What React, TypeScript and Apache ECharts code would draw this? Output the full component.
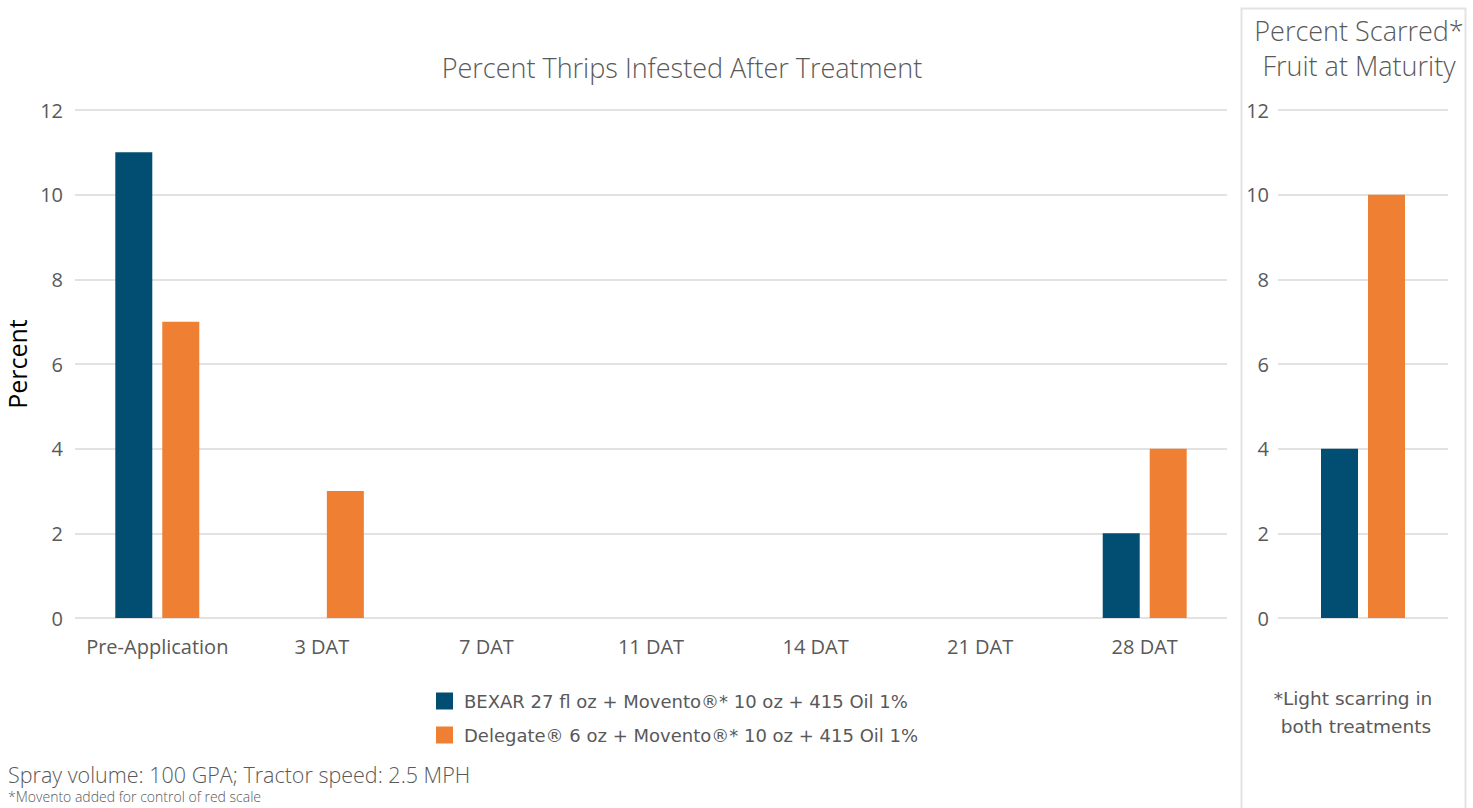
import React, { useEffect, useRef } from "react";
import * as echarts from "echarts";

const categories = ["Pre-Application", "3 DAT", "7 DAT", "11 DAT", "14 DAT", "21 DAT", "28 DAT"];
const bexarValues = [11, 0, 0, 0, 0, 0, 2];
const delegateValues = [7, 3, 0, 0, 0, 0, 4];
const scarredCategories = ["Scarred"];
const bexarScarred = [4];
const delegateScarred = [10];
const seriesNames = [
  "BEXAR 27 fl oz + Movento®* 10 oz + 415 Oil 1%",
  "Delegate® 6 oz + Movento®* 10 oz + 415 Oil 1%",
];
const BLUE = "#024e72";
const ORANGE = "#ee7f33";
const TEXT = "#595959";
const FONT = "'Open Sans', Lato, sans-serif";
const FONT2 = "'DejaVu Sans', sans-serif";

export default function App() {
  const ref = useRef<HTMLDivElement>(null);
  useEffect(() => {
    if (!ref.current) return;
    const chart = echarts.init(ref.current, null, { renderer: "svg" });
    const yAxisCommon = {
      type: "value",
      min: 0,
      max: 12,
      interval: 2,
      axisLine: { show: false },
      axisTick: { show: false },
      splitLine: { lineStyle: { color: "#d9d9d9", width: 1.5 } },
    };
    chart.setOption({
      animation: false,
      textStyle: { fontFamily: FONT },
      title: [
        {
          text: "Percent Thrips Infested After Treatment",
          left: 677,
          top: 49,
          textAlign: "center",
          textStyle: { fontFamily: FONT, fontSize: 27, fontWeight: 300, color: TEXT },
        },
        {
          text: "Percent Scarred*\nFruit at Maturity",
          left: 1354,
          top: 8,
          textAlign: "center",
          textStyle: { fontFamily: FONT, fontSize: 27, fontWeight: 300, color: TEXT, lineHeight: 35 },
        },
      ],
      legend: {
        data: seriesNames,
        orient: "vertical",
        left: 431,
        top: 687,
        itemWidth: 17,
        itemHeight: 17,
        itemGap: 16,
        icon: "rect",
        textStyle: { fontFamily: FONT2, fontSize: 18, color: TEXT, padding: [0, 0, 0, 6] },
      },
      grid: [
        { left: 75, top: 110, width: 1152, height: 508, outerBoundsMode: "none", containLabel: false },
        { left: 1278, top: 110, width: 170, height: 508, outerBoundsMode: "none", containLabel: false },
      ],
      xAxis: [
        {
          type: "category",
          gridIndex: 0,
          data: categories,
          axisLine: { show: false },
          axisTick: { show: false },
          axisLabel: { color: TEXT, fontSize: 20, margin: 18, fontFamily: FONT, interval: 0 },
        },
        {
          type: "category",
          gridIndex: 1,
          data: scarredCategories,
          axisLine: { show: false },
          axisTick: { show: false },
          axisLabel: { show: false },
        },
      ],
      yAxis: [
        {
          ...yAxisCommon,
          gridIndex: 0,
          name: "Percent",
          nameLocation: "middle",
          nameGap: 45,
          nameRotate: 90,
          nameTextStyle: { color: "#000", fontSize: 25, fontFamily: FONT },
          axisLabel: { color: TEXT, fontSize: 20, margin: 12, fontFamily: FONT },
        },
        {
          ...yAxisCommon,
          gridIndex: 1,
          axisLabel: { color: TEXT, fontSize: 20, margin: 9, fontFamily: FONT },
        },
      ],
      series: [
        {
          name: seriesNames[0],
          type: "bar",
          xAxisIndex: 0,
          yAxisIndex: 0,
          data: bexarValues,
          barWidth: 37,
          barGap: "27%",
          itemStyle: { color: BLUE },
        },
        {
          name: seriesNames[1],
          type: "bar",
          xAxisIndex: 0,
          yAxisIndex: 0,
          data: delegateValues,
          barWidth: 37,
          barGap: "27%",
          itemStyle: { color: ORANGE },
        },
        {
          name: seriesNames[0],
          type: "bar",
          xAxisIndex: 1,
          yAxisIndex: 1,
          data: bexarScarred,
          barWidth: 37,
          barGap: "27%",
          itemStyle: { color: BLUE },
        },
        {
          name: seriesNames[1],
          type: "bar",
          xAxisIndex: 1,
          yAxisIndex: 1,
          data: delegateScarred,
          barWidth: 37,
          barGap: "27%",
          itemStyle: { color: ORANGE },
        },
      ],
      graphic: [
        {
          type: "rect",
          shape: { x: 1241.5, y: 8.5, width: 224, height: 820 },
          style: { fill: "none", stroke: "#e3e3e3", lineWidth: 2 },
          silent: true,
        },
        {
          type: "text",
          left: 8,
          top: 763,
          style: { text: "Spray volume: 100 GPA; Tractor speed: 2.5 MPH", fill: TEXT, fontSize: 21.5, fontWeight: 300, fontFamily: FONT },
        },
        {
          type: "text",
          left: 8,
          top: 789,
          style: { text: "*Movento added for control of red scale", fill: TEXT, fontSize: 14, fontWeight: 300, fontFamily: FONT },
        },
        {
          type: "text",
          x: 1353,
          y: 684,
          style: {
            text: "*Light scarring in\n both treatments",
            fill: TEXT,
            fontSize: 18.5,
            lineHeight: 28,
            align: "center",
            fontFamily: FONT2,
          },
        },
      ],
    });
    return () => chart.dispose();
  }, []);
  return (
    <div
      ref={ref}
      style={{ position: "fixed", left: 0, top: 0, width: 1473, height: 808, background: "#fff" }}
    />
  );
}
